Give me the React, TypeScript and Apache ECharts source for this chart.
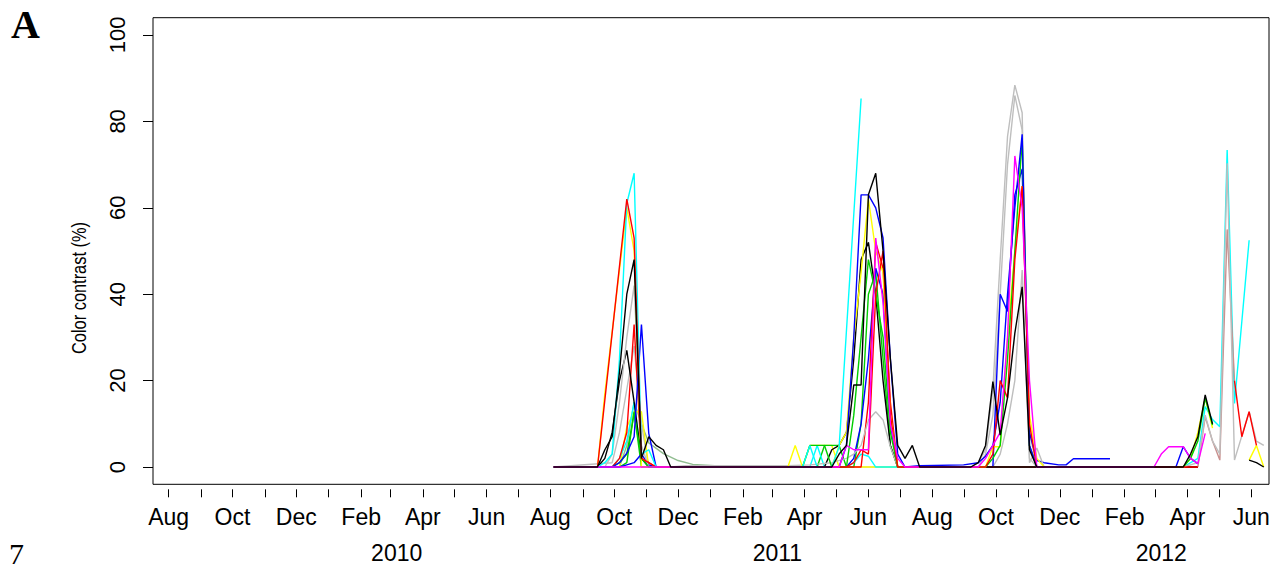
import React, { useEffect, useRef } from 'react';
import * as echarts from 'echarts';

// Every series is sampled weekly; point [k, v] is week k counted from this date.
const FIRST_WEEK = '2010-08-04';

// Visible time window of the x axis.
const AXIS_START = '2009-07-17';
const AXIS_END = '2012-06-18';
const FIRST_TICK_MONTH = '2009-08-01';
const MONTH_TICK_COUNT = 35;

const MONTHS = ['Jan', 'Feb', 'Mar', 'Apr', 'May', 'Jun', 'Jul', 'Aug', 'Sep', 'Oct', 'Nov', 'Dec'];
const YEAR_LABEL_DATES = ['2010-03-07', '2011-03-06', '2012-03-07'];
const Y_TICKS = [0, 20, 40, 60, 80, 100];

type Pt = [number, number | null];

// Colour contrast (%) per plot, [week, value]
const blackA: Pt[] = [
  [0, 0], [6, 0], [7, 4], [8, 7], [9, 22], [10, 40], [11, 48], [12, 2], [13, 7], [14, 5], [15, 4], [16, 0],
  [38, 0], [39, 3], [40, 5], [41, 19], [42, 19], [43, 63], [44, 68], [45, 50], [46, 25], [47, 5], [48, 2], [49, 5], [50, 0],
  [57, 0], [58, 1], [59, 5], [60, 19.8], [61, 7.4], [62, 16], [63, 31], [64, 41.7], [65, 4], [66, 0],
  [86, 0], [87, 3], [88, 7], [89, 16.7], [90, 10], [91, null], [95, 1.6], [96, 1], [97, 0],
];
const blackB: Pt[] = [
  [0, 0], [6, 0], [7, 2], [8, 8], [9, 20], [10, 27], [11, 15], [12, 2], [13, 0],
  [37, 0], [38, 4], [39, 5], [40, 8], [41, 25], [42, 48], [43, 52], [44, 40], [45, 20], [46, 5], [47, 0], [88, 0],
];
const redA: Pt[] = [
  [0, 0], [6, 0], [10, 62], [11, 53], [12, 2], [13, 1], [14, 0],
  [40, 0], [41, 1], [42, 4], [43, 3], [44, 40], [45, 50], [46, 12], [47, 0],
  [59, 0], [60, 3], [61, 20], [62, 16], [63, 48], [64, 65], [65, 10], [66, 0],
  [88, 0], [89, null], [93, 20], [94, 7], [95, 12.8], [96, 5],
];
const redB: Pt[] = [
  [0, 0], [8, 0], [9, 2], [10, 8], [11, 33], [12, 2], [13, 1], [14, 0],
  [42, 0], [43, 15], [44, 52], [45, 46], [46, 15], [47, 0], [88, 0],
];
const rosy: Pt[] = [[88, 0], [89, 11.6], [90, 6], [91, 1.6], [92, 55], [93, 20]];
const greenA: Pt[] = [
  [0, 0], [8, 0], [9, 1], [10, 3], [11, 12.5], [12, 2], [13, 0],
  [34, 0], [35, 5], [37, 5], [38, 0], [40, 0], [41, 12], [42, 30], [43, 48], [44, 40], [45, 30], [46, 8], [47, 0],
  [59, 0], [60, 2], [61, 5], [62, 25], [63, 50], [64, 76], [65, 5], [66, 0],
  [86, 0], [87, 2], [88, 6], [89, 16], [90, 9.7],
];
const greenB: Pt[] = [
  [0, 0], [9, 0], [10, 1], [11, 12.8], [12, 0],
  [36, 0], [37, 5], [39, 5], [40, 0], [41, 0], [42, 10], [43, 40], [44, 45], [45, 25], [46, 5], [47, 0], [88, 0],
];
const blueA: Pt[] = [
  [0, 0], [8, 0], [9, 1], [10, 3.2], [11, 7], [12, 33], [13, 7.8], [14, 0],
  [39, 0], [40, 5], [41, 30], [42, 63], [43, 63], [44, 60], [45, 53], [46, 25], [47, 3], [48, 0],
  [50, 0.3], [56, 0.5], [58, 1], [59, 2.5], [60, 5], [61, 15], [62, 40], [63, 60], [64, 77], [65, 5], [66, 0],
  [85, 0], [86, 4.7], [87, 2], [88, 0.8],
];
const blueB: Pt[] = [
  [0, 0], [9, 0], [10, 0.5], [11, 1], [12, 3], [13, 0.5], [14, 0],
  [40, 0], [41, 2], [42, 10], [43, 25], [44, 46], [45, 40], [46, 10], [47, 0],
  [60, 0], [61, 40], [62, 36], [63, 63], [64, 69], [65, 8], [66, 1.5], [67, 1], [69, 0.5], [70, 0.5], [71, 1.9], [76, 1.9],
];
const cyanA: Pt[] = [
  [0, 0], [6, 0], [7, 1], [8, 3], [9, 25], [10, 61], [11, 68], [12, 3], [13, 4], [14, 0],
  [34, 0], [35, 5], [36, 0], [38, 0], [39, 4.7], [42, 85.3],
];
const cyanB: Pt[] = [
  [0, 0], [8, 0], [9, 2], [10, 6], [11, 15], [12, 2], [13, 0],
  [35, 0], [36, 5], [37, 0], [40, 0], [41, 1], [42, 3], [43, 2.5], [44, 0],
  [86, 0], [88, 2], [89, 14], [90, 11], [91, 9.3], [92, 73.4], [93, 14.7], [95, 52.5],
];
const magentaA: Pt[] = [
  [0, 0], [39, 0], [40, 5], [41, 4], [42, 4], [43, 4], [44, 53], [45, 38], [46, 10], [47, 2], [48, 0],
  [58, 0], [59, 2], [60, 5], [61, 8], [62, 30], [63, 72], [64, 60], [65, 20], [66, 0],
  [82, 0], [83, 3], [84, 4.7], [86, 4.7], [87, 2], [88, 0.8], [89, 7.8],
];
const yellowA: Pt[] = [
  [0, 0], [6, 0], [7, 17], [10, 60], [11, 50], [12, 0],
  [32, 0], [33, 5], [34, 0], [38, 0], [39, 5], [40, 8], [41, 30], [42, 45], [43, 62], [44, 50], [45, 45], [46, 12], [47, 0],
  [59, 0], [60, 4.7], [61, 4.7], [62, 30], [63, 50], [64, 65], [65, 12], [66, 2], [67, 0],
  [86, 0], [87, 2], [88, 8], [89, 16], [90, 9], [91, null], [95, 1.6], [96, 5], [97, 0],
];
const yellowB: Pt[] = [
  [0, 0], [9, 0], [10, 9.3], [11, 12.8], [12, 12.8], [13, 0],
  [34, 0], [35, 5], [38, 5], [39, 0], [88, 0],
];
const grayA: Pt[] = [
  [0, 0], [7, 0], [8, 3], [9, 15], [10, 30], [11, 42], [12, 5], [13, 0],
  [16, 0], [18, 0.3], [32, 0.3], [35, 0.5], [38, 1], [40, 2], [41, 3], [42, 5], [43, 10.9], [44, 12.8], [45, 10.9], [46, 4.7], [47, 0],
  [57, 0], [58, 1], [59, 4], [60, 18], [61, 48], [62, 76.5], [63, 88.4], [64, 82], [65, 1], [66, 4.4], [67, 0],
  [86, 0], [88, 1], [89, 12], [90, 6], [91, 3], [92, 70.3], [93, 1.6], [95, 12.8], [96, 6], [97, 5],
];
const grayB: Pt[] = [
  [0, 0], [8, 1], [9, 8], [10, 18], [11, 28], [12, 10], [13, 0],
  [58, 0], [59, 3], [60, 12], [61, 40], [62, 70], [63, 86], [64, 78], [65, 8], [66, 0], [88, 0],
];
const grayC: Pt[] = [[58, 0], [60, 0], [61, 3], [62, 10], [63, 20], [64, 45.6], [65, 2], [66, 0]];
const seagreen: Pt[] = [
  [0, 0], [9, 0], [10, 5], [11, 15], [12, 10], [13, 5.6], [15, 3.1], [17, 1.5], [19, 0.6], [22, 0.3], [30, 0.3], [33, 0],
];

const BLACK = '#000000';
const RED = '#FF0000';
const GREEN = '#00CD00';
const BLUE = '#0000FF';
const CYAN = '#00FFFF';
const MAGENTA = '#FF00FF';
const YELLOW = '#FFFF00';
const GRAY = '#BEBEBE';
const SEAGREEN = '#8FBC8F';
const ROSYBROWN = '#C9918F';

// Drawing order: later entries are painted on top.
const PLOTS: { data: Pt[]; color: string }[] = [
  { data: seagreen, color: SEAGREEN },
  { data: grayB, color: GRAY },
  { data: grayC, color: GRAY },
  { data: yellowB, color: YELLOW },
  { data: greenB, color: GREEN },
  { data: cyanB, color: CYAN },
  { data: blueB, color: BLUE },
  { data: redB, color: RED },
  { data: blackB, color: BLACK },
  { data: rosy, color: ROSYBROWN },
  { data: grayA, color: GRAY },
  { data: yellowA, color: YELLOW },
  { data: greenA, color: GREEN },
  { data: blueA, color: BLUE },
  { data: cyanA, color: CYAN },
  { data: redA, color: RED },
  { data: magentaA, color: MAGENTA },
  { data: blackA, color: BLACK },
];

const DAY_MS = 86400000;
const dayOf = (iso: string) => Date.parse(iso + 'T00:00:00Z') / DAY_MS;
const weekDay = (k: number) => dayOf(FIRST_WEEK) + 7 * k;
const dateOfDay = (d: number) => new Date(Math.round(d) * DAY_MS);

function monthStarts(): number[] {
  const first = new Date(FIRST_TICK_MONTH + 'T00:00:00Z');
  const out: number[] = [];
  for (let i = 0; i < MONTH_TICK_COUNT; i++) {
    out.push(Date.UTC(first.getUTCFullYear(), first.getUTCMonth() + i, 1) / DAY_MS);
  }
  return out;
}

const SANS = '"Liberation Sans", Arial, Helvetica, sans-serif';
const SERIF = '"Liberation Serif", "Times New Roman", serif';

export default function App() {
  const ref = useRef<HTMLDivElement>(null);

  useEffect(() => {
    if (!ref.current) return;
    const chart = echarts.init(ref.current, undefined, { renderer: 'svg' });
    const ticks = monthStarts();
    const labelTicks = ticks.filter((_, i) => i % 2 === 0);
    const yearAt = YEAR_LABEL_DATES.map(dayOf);
    const xMin = dayOf(AXIS_START);
    const xMax = dayOf(AXIS_END);

    chart.setOption({
      animation: false,
      backgroundColor: '#ffffff',
      grid: {
        left: 153,
        right: 10,
        top: 17.7,
        bottom: 86.7,
        show: true,
        borderColor: '#000',
        borderWidth: 1,
        backgroundColor: 'transparent',
      },
      xAxis: [
        {
          type: 'value',
          min: xMin,
          max: xMax,
          position: 'bottom',
          offset: 5,
          axisLine: { show: false, onZero: false },
          splitLine: { show: false },
          axisTick: { show: true, length: 8, customValues: ticks, lineStyle: { color: '#000', width: 1 } },
          axisLabel: {
            customValues: labelTicks,
            formatter: (v: number) => MONTHS[dateOfDay(v).getUTCMonth()],
            margin: 16,
            fontSize: 23,
            fontFamily: SANS,
            color: '#000',
          },
        },
        {
          type: 'value',
          min: xMin,
          max: xMax,
          position: 'bottom',
          offset: 5,
          axisLine: { show: false, onZero: false },
          splitLine: { show: false },
          axisTick: { show: false },
          axisLabel: {
            customValues: yearAt,
            formatter: (v: number) => String(dateOfDay(v).getUTCFullYear()),
            margin: 52,
            fontSize: 23,
            fontFamily: SANS,
            color: '#000',
          },
        },
      ],
      yAxis: {
        type: 'value',
        min: -4,
        max: 104,
        axisLine: { show: false, onZero: false },
        splitLine: { show: false },
        axisTick: { show: true, length: 10, customValues: Y_TICKS, lineStyle: { color: '#000', width: 1 } },
        axisLabel: {
          customValues: Y_TICKS,
          rotate: 90,
          margin: 25,
          fontSize: 22,
          fontFamily: SANS,
          color: '#000',
        },
      },
      graphic: [
        { type: 'text', left: 11, top: 4, style: { text: 'A', font: `bold 40px ${SERIF}`, fill: '#000' } },
        { type: 'text', left: 9, top: 538, style: { text: '7', font: `30px ${SERIF}`, fill: '#000' } },
        {
          type: 'text',
          x: 79,
          y: 288,
          rotation: Math.PI / 2,
          scaleX: 0.78,
          style: {
            text: 'Color contrast (%)',
            font: `21px ${SANS}`,
            fill: '#000',
            align: 'center',
            verticalAlign: 'middle',
          },
        },
      ],
      series: PLOTS.map((p) => ({
        type: 'line',
        xAxisIndex: 0,
        symbol: 'none',
        showSymbol: false,
        connectNulls: false,
        silent: true,
        lineStyle: { color: p.color, width: 1.4 },
        data: p.data.map(([k, v]) => [weekDay(k), v === null ? '-' : v]),
      })),
    });

    return () => chart.dispose();
  }, []);

  return (
    <div
      ref={ref}
      style={{ position: 'absolute', left: 0, top: 0, width: 1279, height: 571, background: '#fff' }}
    />
  );
}
